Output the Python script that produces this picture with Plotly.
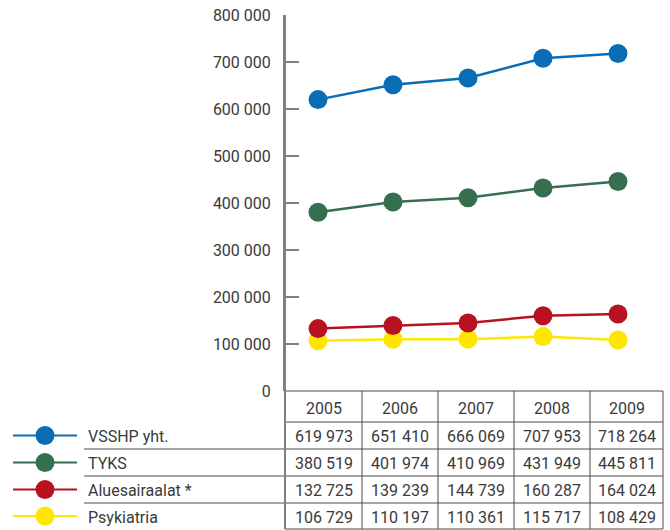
import plotly.graph_objects as go

years = ["2005", "2006", "2007", "2008", "2009"]
series_names = ["VSSHP yht.", "TYKS", "Aluesairaalat *", "Psykiatria"]
vsshp = [619973, 651410, 666069, 707953, 718264]
tyks = [380519, 401974, 410969, 431949, 445811]
aluesairaalat = [132725, 139239, 144739, 160287, 164024]
psykiatria = [106729, 110197, 110361, 115717, 108429]
colors = ["#0A6CB5", "#356F4E", "#B81220", "#FFE600"]
y_ticks = [0, 100000, 200000, 300000, 400000, 500000, 600000, 700000, 800000]

series_values = [vsshp, tyks, aluesairaalat, psykiatria]

FONT = "Roboto, Liberation Sans, Arial, sans-serif"
FS = 16
TXT = "#3a3a3a"
W, H = 670, 530
L, R, T, B = 285, 663, 15, 391  # plot area in pixels


def px(x):
    return (x - L) / (R - L)


def py(y):
    return (B - y) / (B - T)


fig = go.Figure()
xs = list(range(len(years)))
for name, vals, col in reversed(list(zip(series_names, series_values, colors))):
    fig.add_trace(go.Scatter(
        x=xs, y=vals, name=name, mode="lines+markers",
        line=dict(color=col, width=2.5),
        marker=dict(color=col, size=19),
        showlegend=False, cliponaxis=False,
    ))

shapes = []
ann = []
grid_col = "#4a4a4a"
col_edges = [285, 362, 438, 514, 590, 663]
row_edges = [391, 422, 449, 476, 503, 529]


def hline(y, x0, x1, color=grid_col, w=1):
    shapes.append(dict(type="line", xref="paper", yref="paper",
                       x0=px(x0), x1=px(x1), y0=py(y), y1=py(y),
                       line=dict(color=color, width=w)))


def vline(x, y0, y1, color=grid_col, w=1):
    shapes.append(dict(type="line", xref="paper", yref="paper",
                       x0=px(x), x1=px(x), y0=py(y0), y1=py(y1),
                       line=dict(color=color, width=w)))


hline(391, 285, 663)
hline(422, 285, 663)
for y in row_edges[2:-1]:
    hline(y, 84, 663)
hline(529, 285, 663)
for x in col_edges[1:]:
    vline(x, 391, 529)
vline(285, 15, 529, color="#808080", w=2)

# header
for i, yr in enumerate(years):
    cx = (col_edges[i] + col_edges[i + 1]) / 2
    ann.append(dict(x=px(cx), y=py(408), xref="paper", yref="paper", text=yr,
                    showarrow=False, xanchor="center", yanchor="middle",
                    font=dict(family=FONT, size=FS, color=TXT)))

for r, (name, vals, col) in enumerate(zip(series_names, series_values, colors)):
    cy = (row_edges[r + 1] + row_edges[r + 2]) / 2
    # legend symbol
    shapes.append(dict(type="line", xref="paper", yref="paper",
                       x0=px(13), x1=px(77), y0=py(cy), y1=py(cy),
                       line=dict(color=col, width=2)))
    rr = 9.5
    shapes.append(dict(type="circle", xref="paper", yref="paper",
                       x0=px(45 - rr), x1=px(45 + rr), y0=py(cy + rr), y1=py(cy - rr),
                       fillcolor=col, line=dict(width=0)))
    ann.append(dict(x=px(86), y=py(cy + 1), xref="paper", yref="paper", text=name,
                    showarrow=False, xanchor="left", yanchor="middle",
                    font=dict(family=FONT, size=FS, color=TXT)))
    for i, v in enumerate(vals):
        cx = (col_edges[i] + col_edges[i + 1]) / 2
        ann.append(dict(x=px(cx), y=py(cy + 1), xref="paper", yref="paper",
                        text=f"{v:,}".replace(",", " "),
                        showarrow=False, xanchor="center", yanchor="middle",
                        font=dict(family=FONT, size=FS, color=TXT)))

fig.update_layout(
    width=W, height=H,
    margin=dict(l=L, r=W - R, t=T, b=H - B, pad=0),
    paper_bgcolor="white", plot_bgcolor="white",
    separators=", ",
    shapes=shapes, annotations=ann,
    xaxis=dict(range=[-0.44, 4.6], showticklabels=False, showgrid=False,
               zeroline=False, showline=False, ticks=""),
    yaxis=dict(range=[0, 800000], tickvals=y_ticks, tickformat=",d",
               showgrid=False, zeroline=False, showline=True, linecolor="#808080",
               linewidth=2, ticks="inside", ticklen=14, tickwidth=2, tickcolor="#808080",
               ticklabelstandoff=9,
               tickfont=dict(family=FONT, size=FS, color=TXT)),
)

fig.write_html("out.html", config={"displayModeBar": False},
               post_script="document.body.style.margin='0';")
